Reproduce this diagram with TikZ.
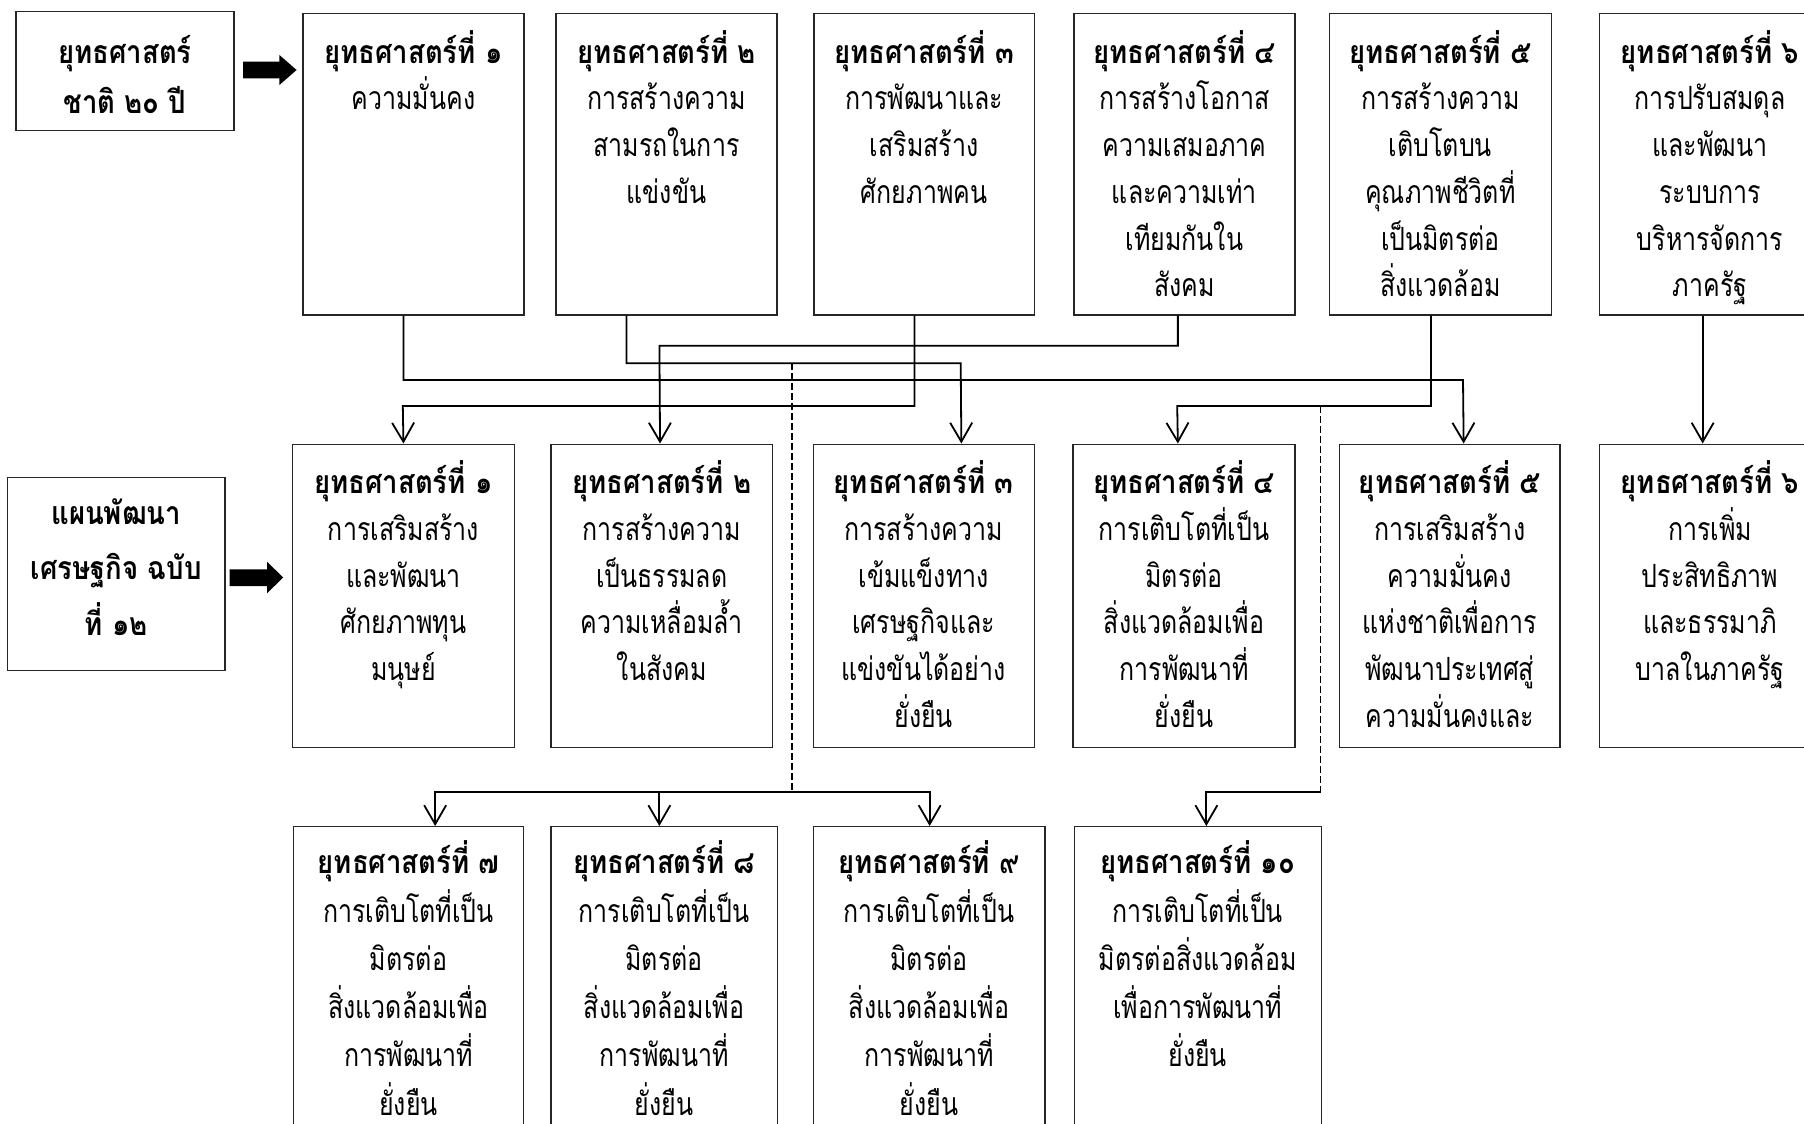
\documentclass[tikz,border=0pt]{standalone}
\usepackage{fontspec}
\newfontfamily\thaifont[Script=Thai,FakeStretch=0.78]{Loma}
\newfontfamily\thaibf[Script=Thai,FakeStretch=0.86]{Loma}
\usetikzlibrary{arrows.meta}
\tikzset{
 box/.style={draw=black!85, line width=1.3pt, rectangle, inner sep=0pt, anchor=north west},
 txt/.style={align=center, inner sep=0pt, anchor=north, font=\thaifont\fontsize{32}{46.7}\selectfont},
 conn/.style={line width=1.8pt, draw=black},
 arr/.style={conn, -{Straight Barb[length=19pt,width=22pt]}},
 dashline/.style={line width=1.5pt, draw=black, dash pattern=on 7pt off 3pt},
 blockarrow/.style={fill=black}
}
\newcommand{\bb}[1]{{\thaibf\bfseries #1}}
\newcommand{\ttl}[1]{\rule{0pt}{40pt}\bb{#1}}
\begin{document}
\begin{tikzpicture}[x=1pt,y=-1pt]
\useasboundingbox (0,0) rectangle (1804,1124);
\clip (0,0) rectangle (1804,1124);
% row 1
\node[box, minimum width=218.1pt, minimum height=119.3pt] (N20) at (15.3,10.7) {};
\node[box, minimum width=220.9pt, minimum height=301.6pt] (B1) at (302.3,12.7) {};
\node[box, minimum width=220.9pt, minimum height=301.6pt] (B2) at (555.4,12.7) {};
\node[box, minimum width=220.1pt, minimum height=301.6pt] (B3) at (813.4,12.7) {};
\node[box, minimum width=221.2pt, minimum height=301.6pt] (B4) at (1073.2,12.7) {};
\node[box, minimum width=221.5pt, minimum height=301.6pt] (B5) at (1329,12.7) {};
\node[box, minimum width=221.3pt, minimum height=301.6pt] (B6) at (1598.7,12.7) {};
% row 2
\node[box, minimum width=217.4pt, minimum height=193.3pt] (N12) at (6.9,476.7) {};
\node[box, minimum width=221.6pt, minimum height=303pt] (C1) at (292,443.5) {};
\node[box, minimum width=221.6pt, minimum height=303pt] (C2) at (550.3,443.5) {};
\node[box, minimum width=221pt, minimum height=303pt] (C3) at (812.5,443.5) {};
\node[box, minimum width=222.1pt, minimum height=303pt] (C4) at (1072.3,443.5) {};
\node[box, minimum width=220.7pt, minimum height=303pt] (C5) at (1338.7,443.5) {};
\node[box, minimum width=221.3pt, minimum height=303pt] (C6) at (1598.7,443.5) {};
% row 3
\node[box, minimum width=230pt, minimum height=400pt] (D7) at (292.9,826) {};
\node[box, minimum width=226.2pt, minimum height=400pt] (D8) at (550.4,826) {};
\node[box, minimum width=231.6pt, minimum height=400pt] (D9) at (812.6,826) {};
\node[box, minimum width=246.9pt, minimum height=400pt] (D10) at (1073.6,826) {};

% texts
\node[txt, font=\thaifont\fontsize{32}{50}\selectfont] (N20t) at ([yshift=-12.6pt]N20.north) {\ttl{ยุทธศาสตร์}\\\bb{ชาติ ๒๐ ปี}};
\node[txt] (B1t) at ([yshift=-10.3pt]B1.north) {\ttl{ยุทธศาสตร์ที่ ๑}\\ความมั่นคง};
\node[txt] (B2t) at ([yshift=-10.3pt]B2.north) {\ttl{ยุทธศาสตร์ที่ ๒}\\การสร้างความ\\สามรถในการ\\แข่งขัน};
\node[txt] (B3t) at ([yshift=-10.3pt]B3.north) {\ttl{ยุทธศาสตร์ที่ ๓}\\การพัฒนาและ\\เสริมสร้าง\\ศักยภาพคน};
\node[txt] (B4t) at ([yshift=-10.3pt]B4.north) {\ttl{ยุทธศาสตร์ที่ ๔}\\การสร้างโอกาส\\ความเสมอภาค\\และความเท่า\\เทียมกันใน\\สังคม};
\node[txt] (B5t) at ([yshift=-10.3pt]B5.north) {\ttl{ยุทธศาสตร์ที่ ๕}\\การสร้างความ\\เติบโตบน\\คุณภาพชีวิตที่\\เป็นมิตรต่อ\\สิ่งแวดล้อม};
\node[txt] (B6t) at ([yshift=-10.3pt]B6.north) {\ttl{ยุทธศาสตร์ที่ ๖}\\การปรับสมดุล\\และพัฒนา\\ระบบการ\\บริหารจัดการ\\ภาครัฐ};
\node[txt, font=\thaifont\fontsize{32}{55.5}\selectfont] (N12t) at ([yshift=-7.3pt]N12.north) {\ttl{แผนพัฒนา}\\\bb{เศรษฐกิจ ฉบับ}\\\bb{ที่ ๑๒}};
\node[txt] (C1t) at ([yshift=-10pt]C1.north) {\ttl{ยุทธศาสตร์ที่ ๑}\\การเสริมสร้าง\\และพัฒนา\\ศักยภาพทุน\\มนุษย์};
\node[txt] (C2t) at ([yshift=-10pt]C2.north) {\ttl{ยุทธศาสตร์ที่ ๒}\\การสร้างความ\\เป็นธรรมลด\\ความเหลื่อมล้ำ\\ในสังคม};
\node[txt] (C3t) at ([yshift=-10pt]C3.north) {\ttl{ยุทธศาสตร์ที่ ๓}\\การสร้างความ\\เข้มแข็งทาง\\เศรษฐกิจและ\\แข่งขันได้อย่าง\\ยั่งยืน};
\node[txt] (C4t) at ([yshift=-10pt]C4.north) {\ttl{ยุทธศาสตร์ที่ ๔}\\การเติบโตที่เป็น\\มิตรต่อ\\สิ่งแวดล้อมเพื่อ\\การพัฒนาที่\\ยั่งยืน};
\node[txt] (C5t) at ([yshift=-10pt]C5.north) {\ttl{ยุทธศาสตร์ที่ ๕}\\การเสริมสร้าง\\ความมั่นคง\\แห่งชาติเพื่อการ\\พัฒนาประเทศสู่\\ความมั่นคงและ};
\node[txt] (C6t) at ([yshift=-10pt]C6.north) {\ttl{ยุทธศาสตร์ที่ ๖}\\การเพิ่ม\\ประสิทธิภาพ\\และธรรมาภิ\\บาลในภาครัฐ};
\node[txt, font=\thaifont\fontsize{32}{48.3}\selectfont] (D7t) at ([yshift=-7.5pt]D7.north) {\ttl{ยุทธศาสตร์ที่ ๗}\\การเติบโตที่เป็น\\มิตรต่อ\\สิ่งแวดล้อมเพื่อ\\การพัฒนาที่\\ยั่งยืน};
\node[txt, font=\thaifont\fontsize{32}{48.3}\selectfont] (D8t) at ([yshift=-7.5pt]D8.north) {\ttl{ยุทธศาสตร์ที่ ๘}\\การเติบโตที่เป็น\\มิตรต่อ\\สิ่งแวดล้อมเพื่อ\\การพัฒนาที่\\ยั่งยืน};
\node[txt, font=\thaifont\fontsize{32}{48.3}\selectfont] (D9t) at ([yshift=-7.5pt]D9.north) {\ttl{ยุทธศาสตร์ที่ ๙}\\การเติบโตที่เป็น\\มิตรต่อ\\สิ่งแวดล้อมเพื่อ\\การพัฒนาที่\\ยั่งยืน};
\node[txt, font=\thaifont\fontsize{32}{48.3}\selectfont] (D10t) at ([yshift=-7.5pt]D10.north) {\ttl{ยุทธศาสตร์ที่ ๑๐}\\การเติบโตที่เป็น\\มิตรต่อสิ่งแวดล้อม\\เพื่อการพัฒนาที่\\ยั่งยืน};

% block arrows
\fill[blockarrow] (243,61.7) -- (279.4,61.7) -- (279.4,55) -- (296.6,70) -- (279.4,85) -- (279.4,78.3) -- (243,78.3) -- cycle;
\fill[blockarrow] (229.6,569.3) -- (267,569.3) -- (267,561.7) -- (283.2,577.5) -- (267,593.3) -- (267,586) -- (229.6,586) -- cycle;

% connectors row1 -> row2
\draw[arr] ([xshift=-9.95pt]B1.south) |- (1463,380) -- ([xshift=13.95pt]C5.north);
\draw[arr] ([xshift=-39.95pt]B2.south) |- (960.7,363.3) -- ([xshift=37.7pt]C3.north);
\draw[arr] ([xshift=-9.65pt]B3.south) |- (402.8,406) -- (C1.north);
\draw[arr] ([xshift=-6.6pt]B4.south) |- (659.4,345.7) -- ([xshift=-1.7pt]C2.north);
\draw[arr] ([xshift=-9.35pt]B5.south) |- (1177.2,406) -- ([xshift=-6.15pt]C4.north);
\draw[arr] ([xshift=-7.35pt]B6.south) -- ([xshift=-7.35pt]C6.north);

% dashed branches to row 3
\coordinate (j1) at (792,363.3);
\coordinate (j2) at (792,791.7);
\coordinate (j3) at (1320.5,406);
\coordinate (j4) at (1320.5,791.7);
\draw[dashline] (j1) -- (j2);
\draw[dashline] (j3) -- (j4);
\draw[arr] (j2) -| ([xshift=26.6pt]D7.north);
\draw[arr] (j2) -| ([xshift=-4.8pt]D8.north);
\draw[arr] (j2) -| ([xshift=0.6pt]D9.north);
\draw[arr] (j4) -| ([xshift=8.65pt]D10.north);
\end{tikzpicture}
\end{document}
